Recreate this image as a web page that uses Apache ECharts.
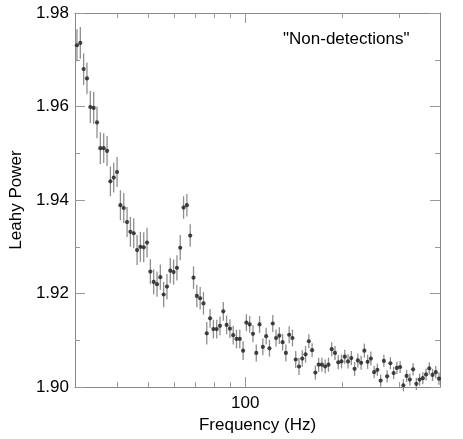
<!DOCTYPE html>
<html>
<head>
<meta charset="utf-8">
<script src="https://cdn.jsdelivr.net/npm/echarts@6/dist/echarts.min.js"></script>
<style>html,body{margin:0;padding:0;background:#fff;}#c{width:463px;height:439px;}</style>
</head>
<body>
<div id="c"></div>
<script>
var freq = [30.12,30.85,31.59,32.35,33.13,33.93,34.75,35.59,36.45,37.33,38.23,39.15,40.09,41.06,42.05,43.06,44.09,45.15,46.24,47.35,48.49,49.65,50.84,52.06,53.30,54.58,55.89,57.23,58.60,60.00,61.44,62.91,64.42,65.96,67.54,69.16,70.81,72.51,74.24,76.01,77.83,79.69,81.59,83.53,85.52,87.56,89.64,91.77,93.96,96.19,98.48,100.82,103.22,105.67,108.19,110.76,113.39,116.09,118.85,121.68,124.57,127.52,130.54,133.63,136.80,140.04,143.34,146.73,150.19,153.73,157.36,161.08,164.89,168.79,172.78,176.87,181.03,185.29,189.64,194.10,198.67,203.35,208.15,213.06,218.08,223.22,228.47,233.84,239.34,244.96,250.72,256.59,262.61,268.76,275.06,281.50,288.09,294.84,301.75,308.82,316.05,323.44,331.00,338.74,346.66,354.77,363.05,371.53,380.20,389.07,398.15];
var power = [1.9731,1.9736,1.9680,1.9660,1.9599,1.9597,1.9566,1.9511,1.9511,1.9505,1.9440,1.9448,1.9460,1.9389,1.9383,1.9353,1.9332,1.9329,1.9293,1.9300,1.9299,1.9309,1.9247,1.9225,1.9220,1.9235,1.9198,1.9215,1.9249,1.9246,1.9255,1.9298,1.9384,1.9389,1.9324,1.9234,1.9195,1.9190,1.9179,1.9115,1.9147,1.9124,1.9124,1.9131,1.9162,1.9133,1.9125,1.9111,1.9103,1.9103,1.9078,1.9138,1.9134,1.9114,1.9073,1.9134,1.9086,1.9109,1.9083,1.9136,1.9105,1.9110,1.9096,1.9073,1.9112,1.9105,1.9059,1.9044,1.9061,1.9070,1.9098,1.9079,1.9031,1.9048,1.9048,1.9044,1.9048,1.9081,1.9073,1.9053,1.9055,1.9065,1.9055,1.9062,1.9039,1.9057,1.9052,1.9078,1.9054,1.9061,1.9032,1.9037,1.9014,1.9056,1.9023,1.9051,1.9030,1.9041,1.9043,1.9004,1.9024,1.9016,1.9038,1.9007,1.9016,1.9019,1.9027,1.9040,1.9026,1.9032,1.9018];
var powerErr = [0.0034,0.0034,0.0034,0.0034,0.0034,0.0034,0.0034,0.0034,
0.0032,0.0032,0.0032,0.0032,0.0032,0.0032,0.0032,0.0032,0.0032,0.0032,0.0032,0.0032,0.0032,0.0032,
0.0027,0.0027,0.0027,0.0027,0.0027,0.0027,0.0027,0.0027,0.0027,0.0027,
0.0024,0.0024,0.0024,0.0024,0.0024,0.0024,0.0024,0.0024,
0.0020,0.0020,0.0020,0.0020,0.0020,0.0020,0.0020,0.0020,0.0020,0.0020,0.0020,
0.0018,0.0018,0.0018,0.0018,0.0018,0.0018,0.0018,0.0018,0.0018,0.0018,0.0018,0.0018,0.0018,0.0018,0.0018,0.0018,0.0018,0.0018,0.0018,
0.0015,0.0015,0.0015,0.0015,0.0015,0.0015,0.0015,0.0015,0.0015,0.0015,0.0015,0.0015,0.0015,0.0015,0.0015,0.0015,0.0015,0.0015,0.0015,0.0015,
0.0013,0.0013,0.0013,0.0013,0.0013,0.0013,0.0013,0.0013,0.0013,0.0013,0.0013,0.0013,0.0013,0.0013,0.0013,0.0013,0.0013,0.0013,0.0013,0.0013,0.0013];
var xMinorTicks = [40,50,60,70,80,90,200,300];
var xMajorTicks = [100];
var yTickLabels = ['1.90','1.92','1.94','1.96','1.98'];
var xLabel = 'Frequency (Hz)';
var yLabel = 'Leahy Power';
var panelLabel = '"Non-detections"';

var n = Math.min(freq.length, power.length, powerErr.length);
var pts = [], errs = [];
for (var i = 0; i < n; i++) {
  pts.push([freq[i], power[i]]);
  errs.push([freq[i], power[i] - powerErr[i], power[i] + powerErr[i]]);
}
var tickData = xMinorTicks.map(function (v) { return [v, 5]; })
  .concat(xMajorTicks.map(function (v) { return [v, 10]; }));
var FONT = "'Liberation Sans', Arial, Helvetica, sans-serif";
var AX = '#888888', TK = '#999999';
var XMIN = 29.7, XMAX = 401, YMIN = 1.90, YMAX = 1.98;

var chart = echarts.init(document.getElementById('c'), null, {renderer: 'canvas'});
chart.setOption({
  animation: false,
  backgroundColor: '#fff',
  grid: {left: 67, right: 23, top: 13, bottom: 48},
  graphic: [{
    type: 'text', left: 283, top: 31,
    style: {text: panelLabel, font: '17px ' + FONT, fill: '#000'}
  }],
  xAxis: [{
    type: 'log', min: XMIN, max: XMAX, position: 'bottom',
    axisLine: {lineStyle: {color: AX, width: 1}},
    axisTick: {show: false},
    axisLabel: {fontSize: 17, fontFamily: FONT, color: '#000', margin: 8,
      formatter: function (v) { return Math.abs(v - 100) < 0.01 ? '100' : ''; }},
    splitLine: {show: false},
    name: xLabel, nameLocation: 'middle', nameGap: 24,
    nameTextStyle: {fontSize: 17, fontFamily: FONT, color: '#000'}
  }, {
    type: 'log', min: XMIN, max: XMAX, position: 'top',
    axisLine: {lineStyle: {color: AX, width: 1}},
    axisTick: {show: false},
    axisLabel: {show: false}, splitLine: {show: false}
  }],
  yAxis: [{
    type: 'value', min: YMIN, max: YMAX, interval: 0.02, position: 'left',
    axisLine: {show: true, lineStyle: {color: AX, width: 1}},
    axisTick: {show: true, inside: true, length: 10, lineStyle: {color: TK, width: 1}},
    minorTick: {show: true, splitNumber: 2, length: 5, lineStyle: {color: TK, width: 1}},
    axisLabel: {fontSize: 17, fontFamily: FONT, color: '#000', margin: 6,
      formatter: function (v) { return yTickLabels[Math.round((v - YMIN) / 0.02)] || ''; }},
    splitLine: {show: false}, minorSplitLine: {show: false},
    name: yLabel, nameLocation: 'middle', nameGap: 47,
    nameTextStyle: {fontSize: 17, fontFamily: FONT, color: '#000'}
  }, {
    type: 'value', min: YMIN, max: YMAX, interval: 0.02, position: 'right',
    axisLine: {show: true, lineStyle: {color: AX, width: 1}},
    axisTick: {show: true, inside: true, length: 10, lineStyle: {color: TK, width: 1}},
    minorTick: {show: true, splitNumber: 2, length: 5, lineStyle: {color: TK, width: 1}},
    axisLabel: {show: false}, splitLine: {show: false}
  }],
  series: [{
    type: 'custom', xAxisIndex: 0, yAxisIndex: 0, silent: true, clip: false, z: 3,
    data: tickData, encode: {x: 0},
    renderItem: function (params, api) {
      var v = api.value(0), len = api.value(1);
      var b = api.coord([v, YMIN]);
      var t = api.coord([v, YMAX]);
      var x = Math.round(b[0]) + 0.5;
      return {type: 'group', children: [
        {type: 'line', shape: {x1: x, y1: b[1], x2: x, y2: b[1] - len}, style: {stroke: TK, lineWidth: 1}},
        {type: 'line', shape: {x1: x, y1: t[1], x2: x, y2: t[1] + len}, style: {stroke: TK, lineWidth: 1}}
      ]};
    }
  }, {
    type: 'custom', xAxisIndex: 0, yAxisIndex: 0, silent: true,
    data: errs, encode: {x: 0, y: [1, 2]},
    renderItem: function (params, api) {
      var lo = api.coord([api.value(0), api.value(1)]);
      var hi = api.coord([api.value(0), api.value(2)]);
      return {type: 'line', shape: {x1: lo[0], y1: lo[1], x2: hi[0], y2: hi[1]},
        style: {stroke: '#8e8e8e', lineWidth: 1.3}};
    }
  }, {
    type: 'scatter', xAxisIndex: 0, yAxisIndex: 0, data: pts,
    symbol: 'circle', symbolSize: 4.2, silent: true,
    itemStyle: {color: '#1c1c1c'}, z: 5
  }]
});
</script>
</body>
</html>
